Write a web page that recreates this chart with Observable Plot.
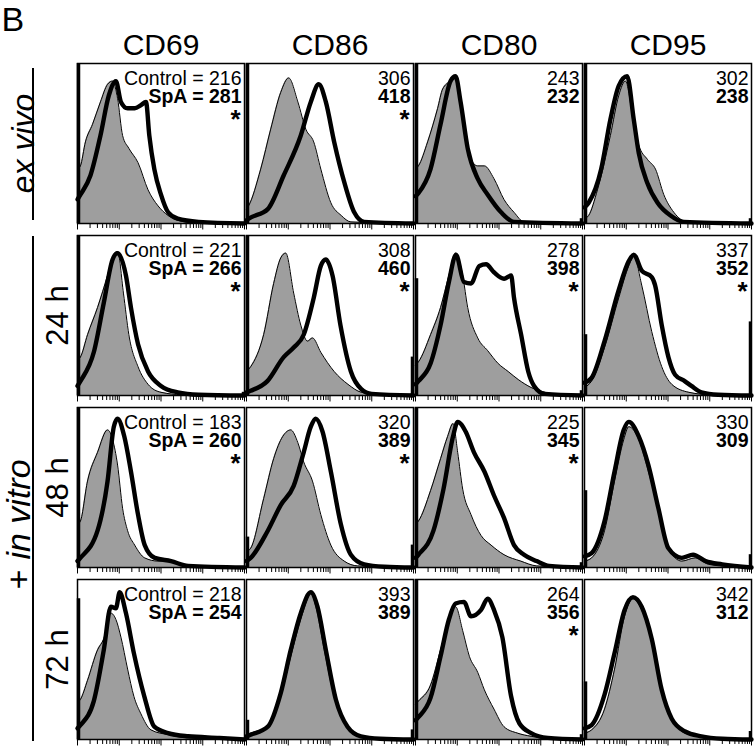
<!DOCTYPE html>
<html><head><meta charset="utf-8">
<script src="https://cdn.jsdelivr.net/npm/d3@7"></script>
<script src="https://cdn.jsdelivr.net/npm/@observablehq/plot@0.6"></script>
<style>body{margin:0;background:#fff} #chart{width:756px;height:751px}</style>
</head><body><div id="chart"></div>
<script>
const markers = ["CD69", "CD86", "CD80", "CD95"];
const conditions = ["ex vivo", "24 h", "48 h", "72 h"];

// Mean fluorescence intensities printed in each panel
const controlMFI = [[216, 306, 243, 302], [221, 308, 278, 337], [183, 320, 225, 330], [218, 393, 264, 342]];
const spaMFI     = [[281, 418, 232, 238], [266, 460, 398, 352], [260, 389, 345, 309], [254, 389, 356, 312]];
const significant = [[1, 1, 0, 0], [1, 1, 1, 1], [1, 1, 1, 0], [0, 0, 1, 0]];

// Pile-up of events in the first / last channel (% of panel height)
const leftSpike  = [[100, 100, 100, 100], [100, 100, 73, 38], [100, 19, 100, 48], [88, 12, 100, 36]];
const rightSpike = [[0, 0, 3, 3], [2, 24, 3, 46], [0, 14, 3, 8], [0, 6, 3, 5]];

// Histograms: [log10 fluorescence (decades), % of panel height]; order CD69, CD86, CD80, CD95
const ctrlExVivo = [
  [[0,34],[0.07,36],[0.19,51],[0.36,62],[0.55,76],[0.72,87],[0.84,89],[0.96,78],[1.08,55],[1.23,47],[1.45,38],[1.69,21],[1.93,11],[2.17,5],[2.4,2],[2.8,0.5],[4,0]],
  [[0,9],[0.05,11],[0.34,34],[0.58,59],[0.82,82],[1.01,91],[1.23,76],[1.42,59],[1.61,51],[1.78,34],[2.02,13],[2.27,5],[2.5,1],[4,0]],
  [[0,34],[0.07,36],[0.29,51],[0.53,72],[0.65,84],[0.84,89],[0.96,91],[1.13,68],[1.33,40],[1.49,36],[1.65,36],[1.88,28],[2.12,15],[2.36,7],[2.6,1],[4,0]],
  [[0,3],[0.1,5],[0.31,21],[0.62,55],[0.82,80],[0.98,89],[1.15,68],[1.3,49],[1.51,40],[1.7,34],[1.9,18],[2.14,7],[2.46,1],[4,0]]
];
const spaExVivo = [
  [[0,15],[0.07,18],[0.31,30],[0.55,55],[0.75,80],[0.92,89],[1.04,76],[1.2,72],[1.37,72],[1.52,74],[1.64,76],[1.72,55],[1.84,34],[2.0,18],[2.17,7],[2.4,3],[2.9,1],[4,0]],
  [[0,2],[0.05,3],[0.51,9],[0.89,30],[1.3,55],[1.54,76],[1.73,87],[1.9,76],[2.1,51],[2.34,26],[2.58,7],[2.82,1],[4,0]],
  [[0,17],[0.07,19],[0.36,34],[0.6,62],[0.84,89],[0.96,92],[1.08,76],[1.25,47],[1.49,28],[1.73,18],[2.05,7],[2.36,1],[4,0]],
  [[0,10],[0.1,13],[0.4,34],[0.62,65],[0.82,86],[1.02,92],[1.18,65],[1.3,44],[1.51,25],[1.75,13],[2.06,5],[2.38,1],[4,0]]
];
const ctrl24h = [
  [[0,22],[0.07,24],[0.24,38],[0.48,55],[0.72,75],[0.87,88],[0.96,90],[1.1,64],[1.23,38],[1.45,18],[1.69,7],[2.0,2],[2.5,0.5],[4,0]],
  [[0,15],[0.1,18],[0.41,38],[0.65,70],[0.82,86],[0.94,89],[1.13,64],[1.3,44],[1.46,34],[1.58,36],[1.78,27],[2.1,15],[2.43,7],[2.75,2],[3.2,0.5],[4,0]],
  [[0,19],[0.07,21],[0.36,38],[0.6,55],[0.8,75],[0.96,89],[1.13,75],[1.25,55],[1.49,36],[1.73,28],[1.98,20],[2.22,15],[2.46,10],[2.77,5],[3.1,2],[3.5,0.5],[4,0]],
  [[0,5],[0.17,9],[0.48,30],[0.82,61],[1.06,81],[1.18,87],[1.37,69],[1.61,40],[1.85,18],[2.09,7],[2.5,2],[3,0.5],[4,0]]
];
const spa24h = [
  [[0,6],[0.07,9],[0.39,27],[0.63,58],[0.84,85],[0.96,89],[1.16,75],[1.28,55],[1.45,32],[1.69,15],[2.0,6],[2.4,2],[2.9,0.5],[4,0]],
  [[0,2],[0.1,3],[0.5,9],[0.89,24],[1.13,30],[1.37,38],[1.61,61],[1.78,81],[1.9,85],[2.06,75],[2.25,44],[2.5,15],[2.75,4],[3.0,1],[4,0]],
  [[0,7],[0.07,9],[0.36,20],[0.6,44],[0.8,71],[0.97,88],[1.16,71],[1.33,70],[1.53,81],[1.69,82],[1.88,77],[2.12,73],[2.29,75],[2.36,61],[2.53,38],[2.7,15],[2.84,6],[3.1,1],[4,0]],
  [[0,8],[0.17,11],[0.48,34],[0.82,66],[1.06,84],[1.18,88],[1.37,78],[1.61,74],[1.69,69],[1.85,44],[2.01,24],[2.17,13],[2.4,9],[2.56,6],[2.8,2],[3.2,0.5],[4,0]]
];
const ctrl48h = [
  [[0,27],[0.07,29],[0.24,54],[0.48,72],[0.72,86],[0.84,80],[0.96,64],[1.08,37],[1.2,23],[1.37,14],[1.61,6],[1.93,4],[2.24,4],[2.65,1],[4,0]],
  [[0,10],[0.1,12],[0.41,43],[0.65,68],[0.87,82],[1.06,86],[1.23,78],[1.37,66],[1.58,54],[1.78,33],[2.02,14],[2.34,4],[2.66,1],[4,0]],
  [[0,27],[0.07,29],[0.36,48],[0.6,68],[0.77,82],[0.9,90],[1.01,72],[1.13,49],[1.33,33],[1.57,20],[1.81,14],[2.12,8],[2.52,4],[2.9,1],[4,0]],
  [[0,4],[0.17,6],[0.48,23],[0.72,54],[0.94,80],[1.06,88],[1.3,80],[1.53,60],[1.77,37],[2.01,12],[2.33,4],[2.65,6],[2.97,2],[3.5,0.5],[4,0]]
];
const spa48h = [
  [[0,4],[0.07,6],[0.48,23],[0.72,54],[0.87,88],[0.96,93],[1.12,82],[1.28,60],[1.45,33],[1.61,14],[1.85,6],[2.24,4],[2.65,1],[4,0]],
  [[0,4],[0.1,6],[0.51,23],[0.82,39],[1.13,51],[1.37,72],[1.54,88],[1.66,93],[1.82,85],[2.02,60],[2.26,27],[2.5,8],[2.82,2],[3.3,0.5],[4,0]],
  [[0,6],[0.07,8],[0.43,23],[0.67,49],[0.9,82],[1.01,91],[1.2,85],[1.4,72],[1.65,60],[1.88,45],[2.12,31],[2.36,14],[2.6,8],[2.9,4],[3.2,1],[4,0]],
  [[0,7],[0.17,9],[0.48,29],[0.72,60],[0.94,86],[1.06,91],[1.3,82],[1.53,64],[1.77,37],[2.01,12],[2.33,6],[2.6,8],[2.9,4],[3.3,2],[4,0]]
];
const ctrl72h = [
  [[0,23],[0.07,25],[0.24,37],[0.48,56],[0.63,63],[0.8,79],[0.92,75],[1.04,64],[1.2,44],[1.35,27],[1.52,16],[1.76,6],[2.17,3],[2.65,1],[4,0]],
  [[0,3],[0.1,4],[0.51,8],[0.82,27],[1.06,52],[1.3,75],[1.46,88],[1.54,92],[1.66,83],[1.86,56],[2.1,27],[2.34,11],[2.66,3],[3.0,1],[4,0]],
  [[0,22],[0.07,24],[0.36,34],[0.6,56],[0.8,75],[0.96,83],[1.13,68],[1.29,52],[1.49,42],[1.65,31],[1.88,19],[2.12,8],[2.44,4],[2.77,2],[3.2,0.5],[4,0]],
  [[0,4],[0.17,6],[0.48,19],[0.72,44],[0.96,77],[1.16,88],[1.37,81],[1.61,61],[1.85,31],[2.09,13],[2.41,4],[2.8,2],[3.3,0.5],[4,0]]
];
const spa72h = [
  [[0,7],[0.07,9],[0.39,24],[0.63,56],[0.8,83],[0.92,82],[1.01,92],[1.16,79],[1.35,54],[1.6,27],[1.84,8],[2.17,4],[2.65,2],[3.4,1],[4,0]],
  [[0,2],[0.1,3],[0.51,8],[0.82,29],[1.06,56],[1.3,79],[1.54,92],[1.7,83],[1.9,56],[2.14,25],[2.42,8],[2.74,2],[3.2,0.5],[4,0]],
  [[0,12],[0.07,14],[0.36,26],[0.6,52],[0.8,75],[0.96,85],[1.16,86],[1.33,77],[1.57,81],[1.73,88],[1.88,81],[2.08,64],[2.29,27],[2.49,10],[2.77,4],[3.17,1],[4,0]],
  [[0,7],[0.17,9],[0.48,28],[0.72,54],[0.96,81],[1.16,89],[1.37,83],[1.61,63],[1.85,31],[2.09,13],[2.41,5],[2.8,2],[3.3,0.5],[4,0]]
];

// Log axis: decades and minor steps
const decades = [0, 1, 2, 3];
const minorSteps = [2, 3, 4, 5, 6, 7, 8, 9];

// ---- build tables ----
const ctrlSeries = [ctrlExVivo, ctrl24h, ctrl48h, ctrl72h];
const spaSeries = [spaExVivo, spa24h, spa48h, spa72h];
function toPoints(series) {
  const pts = [];
  conditions.forEach((cond, r) => markers.forEach((m, c) =>
    series[r][c].forEach(([x, y]) => pts.push({fx: m, fy: cond, x, y}))));
  return pts;
}
const ctrlPts = toPoints(ctrlSeries);
const spaPts = toPoints(spaSeries);
const panels = conditions.flatMap((cond, r) => markers.map((m, c) => ({
  cond, m, r, c,
  ctrl: controlMFI[r][c], spa: spaMFI[r][c], sig: significant[r][c],
  left: leftSpike[r][c], right: rightSpike[r][c]
})));
const tickPos = [...decades.map(d => ({x: d, major: true})), {x: 4, major: true},
  ...decades.flatMap(d => minorSteps.map(k => ({x: d + Math.log10(k), major: false})))];
const tickData = panels.flatMap(p => tickPos.map(t => ({...t, m: p.m, cond: p.cond})));

const W = 756, H = 751, MT = 62, MB = 11, ML = 76, MR = 4;
const PY = 0.07;
const rowBand = (H - MT - MB) / (4 - PY) * (1 - PY);
const pxPerUnit = rowBand / 100;

const font = "'Liberation Sans', Arial, Helvetica, sans-serif";
const plot = Plot.plot({
  width: W, height: H,
  marginTop: MT, marginBottom: MB, marginLeft: ML, marginRight: MR,
  style: {fontFamily: font, fontSize: "30px", color: "black", background: "white"},
  x: {domain: [0, 4], axis: null},
  y: {domain: [0, 100], axis: null},
  fx: {domain: markers, paddingInner: 0.012, paddingOuter: 0, axis: "top", label: null, tickSize: 0, tickPadding: 9},
  fy: {domain: conditions, paddingInner: PY, paddingOuter: 0, axis: null, label: null},
  marks: [
    Plot.areaY(ctrlPts, {x: "x", y: "y", fx: "fx", fy: "fy", fill: "#9e9e9e", curve: "monotone-x"}),
    Plot.lineY(ctrlPts, {x: "x", y: "y", fx: "fx", fy: "fy", stroke: "black", strokeWidth: 1, curve: "monotone-x"}),
    Plot.lineY(spaPts, {x: "x", y: "y", fx: "fx", fy: "fy", stroke: "black", strokeWidth: 4.4, curve: "monotone-x", strokeLinejoin: "round"}),
    Plot.frame({stroke: "black", strokeWidth: 1.5}),
    Plot.ruleX(panels, {x: () => 0, y1: () => 0, y2: "left", fx: "m", fy: "cond", stroke: "black", strokeWidth: 3.5, dx: 1}),
    Plot.ruleX(panels.filter(p => p.right > 0), {x: () => 4, y1: () => 0, y2: "right", fx: "m", fy: "cond", stroke: "black", strokeWidth: 2.5, dx: -1.5}),
    Plot.ruleX(tickData, {x: "x", y1: () => 0, y2: d => -(d.major ? 6.5 : 5) / pxPerUnit, fx: "m", fy: "cond", stroke: "black", strokeWidth: 1}),
    // MFI annotations
    Plot.text(panels, {fx: "m", fy: "cond", text: d => d.c === 0 ? `Control = ${d.ctrl}` : `${d.ctrl}`,
      frameAnchor: "top-right", textAnchor: "end", lineAnchor: "bottom", dx: -3, dy: 21, fontSize: 19.5, fill: "black"}),
    Plot.text(panels, {fx: "m", fy: "cond", text: d => d.c === 0 ? `SpA = ${d.spa}` : `${d.spa}`,
      frameAnchor: "top-right", textAnchor: "end", lineAnchor: "bottom", dx: -3, dy: 39, fontSize: 19.5, fontWeight: "bold", fill: "black"}),
    Plot.text(panels.filter(p => p.sig), {fx: "m", fy: "cond", text: () => "*",
      frameAnchor: "top-right", textAnchor: "end", lineAnchor: "bottom", dx: -4, dy: 64, fontSize: 26, fontWeight: "bold", fill: "black"}),
    // row labels
    Plot.text(conditions.slice(1), {fx: () => "CD69", fy: d => d, text: d => d, frameAnchor: "left", rotate: -90,
      textAnchor: "middle", lineAnchor: "middle", dx: -19, fontSize: 31, fill: "black"}),
    Plot.text(conditions.slice(0, 1), {fx: () => "CD69", fy: d => d, text: d => d, frameAnchor: "left", rotate: -90,
      textAnchor: "middle", lineAnchor: "middle", dx: -54, fontSize: 32, fontStyle: "italic", fill: "black"}),
    Plot.text(["+"], {fx: () => "CD69", fy: () => "48 h", text: d => d, frameAnchor: "left", rotate: -90,
      textAnchor: "middle", lineAnchor: "middle", dx: -58, dy: 92, fontSize: 34, fill: "black"}),
    Plot.text(["in vitro"], {fx: () => "CD69", fy: () => "48 h", text: d => d, frameAnchor: "left", rotate: -90,
      textAnchor: "middle", lineAnchor: "middle", dx: -58, dy: 22, fontSize: 34, fontStyle: "italic", fill: "black"}),
    Plot.text(["B"], {fx: () => "CD69", fy: () => "ex vivo", text: d => d, frameAnchor: "top-left",
      textAnchor: "start", lineAnchor: "bottom", dx: -76, dy: -33, fontSize: 34, fill: "black"})
  ]
});
document.getElementById("chart").appendChild(plot);

// bracket lines beside the row labels
const svg = d3.select(plot.tagName.toLowerCase() === "svg" ? plot : plot.querySelector("svg"));
const fyS = plot.scale("fy");
const band = fyS.bandwidth;
const yOf = c => fyS.apply(c);
const brackets = [
  {y1: yOf("ex vivo") + 5, y2: yOf("ex vivo") + band - 3},
  {y1: yOf("24 h") + 1, y2: yOf("72 h") + band + 2}
];
svg.append("g").selectAll("line").data(brackets).join("line")
  .attr("x1", 33).attr("x2", 33).attr("y1", d => d.y1).attr("y2", d => d.y2)
  .attr("stroke", "black").attr("stroke-width", 2);
</script>
</body></html>
